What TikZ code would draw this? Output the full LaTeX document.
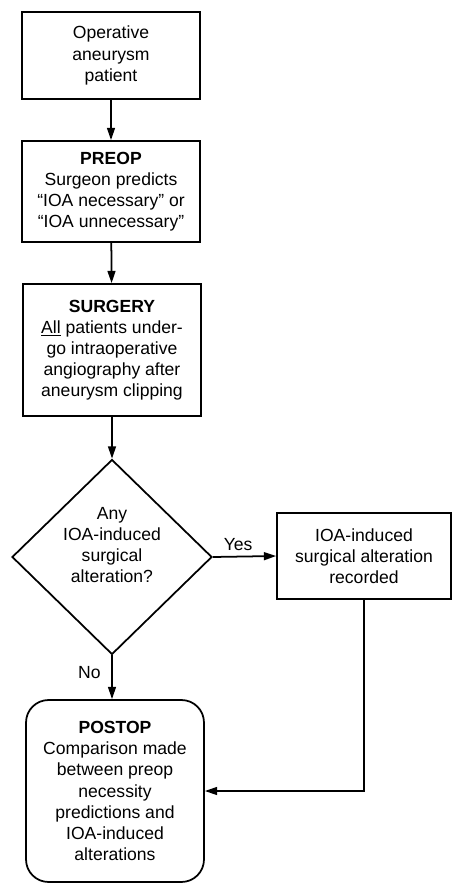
\documentclass[tikz,border=0pt]{standalone}
\usepackage{fontspec}
\setmainfont{Liberation Sans}
\usetikzlibrary{shapes.geometric,arrows.meta}
\begin{document}
\begin{tikzpicture}[x=0.02cm,y=-0.02cm,
  every node/.style={font=\fontsize{10}{12}\selectfont,align=center,inner sep=0pt},
  stepbox/.style={draw,line width=1pt,minimum width=3.56cm},
  decision/.style={draw,diamond,line width=1pt,minimum width=4cm,minimum height=3.9cm},
  endbox/.style={draw,line width=1pt,rounded corners=0.45cm,minimum width=3.56cm,minimum height=3.64cm},
  flow/.style={line width=1pt,-{Triangle[length=7pt,width=4.5pt]}}]
\useasboundingbox (0,0) rectangle (451,884);
%centres of the boxes
\coordinate (c1) at (111,55.5);
\coordinate (c2) at (111,191.5);
\coordinate (c3) at (112,350);
\coordinate (c4) at (112,557);
\coordinate (c5) at (364,556);
\coordinate (c6) at (115,791);
%main column
\node[stepbox,minimum height=1.74cm] (patient) at (c1) {Operative\\aneurysm\\patient};
\node[stepbox,minimum height=2.02cm] (preop) at (c2) {\textbf{PREOP}\\Surgeon predicts\\“IOA necessary” or\\“IOA unnecessary”};
\node[stepbox,minimum height=2.64cm] (surgery) at (c3) {\textbf{SURGERY}\\\underline{All} patients under-\\go intraoperative\\angiography after\\aneurysm clipping};
\node[decision] (alter) at (c4) {};
\node (question) at (112,545) {Any\\IOA-induced\\surgical\\alteration?};
%side box, cut by the right edge
\node[stepbox,minimum width=3.48cm,minimum height=1.72cm] (recorded) at (c5) {IOA-induced\\surgical alteration\\recorded};
\node[endbox] (postop) at (c6) {\textbf{POSTOP}\\Comparison made\\between preop\\necessity\\predictions and\\IOA-induced\\alterations};
%connectors
\draw[flow] (patient) -- (preop);
\draw[flow] (preop) -- (surgery);
\draw[flow] (surgery) -- (alter);
\draw[flow] (alter.east) -- (recorded.west) node[pos=0.4,above=3pt]{Yes};
\draw[flow] (alter.south) -- (alter.south |- postop.north) node[pos=0.4,left=6pt]{No};
\draw[flow] (recorded.south) |- (postop.east);
\end{tikzpicture}
\end{document}
